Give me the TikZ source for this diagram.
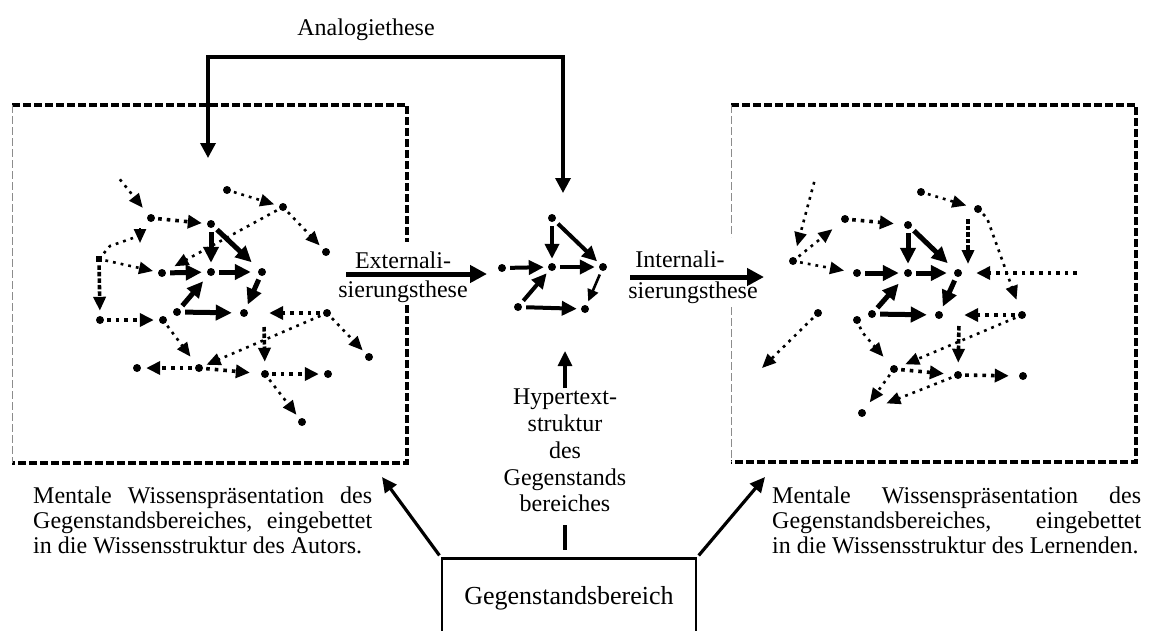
\documentclass[tikz,border=0pt]{standalone}
\usepackage{fontspec}
\setmainfont{Liberation Serif}
\usetikzlibrary{arrows.meta}
\begin{document}
\begin{tikzpicture}[x=1pt,y=-1pt,
  nd/.style={circle,fill=black,inner sep=0pt,minimum size=8pt},
  nsq/.style={rectangle,fill=black,inner sep=0pt,minimum size=6.5pt},
  thk/.style={line width=5pt,-{Triangle[length=16pt,width=15pt]},shorten <=4pt,shorten >=5pt},
  cthk/.style={line width=4pt,-{Triangle[length=15pt,width=14pt]},shorten <=4pt,shorten >=4pt},
  dt/.style={line width=3.6pt,dash pattern=on 3.6pt off 5pt,-{Triangle[length=14pt,width=13pt]},shorten <=3pt,shorten >=5pt},
  dd/.style={line width=2.6pt,dash pattern=on 2.8pt off 5pt,-{Triangle[length=14pt,width=12pt]},shorten <=3pt,shorten >=5pt},
  vd/.style={line width=3.6pt,dash pattern=on 4.5pt off 2pt,-{Triangle[length=14pt,width=12pt]},shorten <=3pt,shorten >=5pt},
  boxd/.style={line width=3.2pt,dash pattern=on 8pt off 3pt},
  boxg/.style={line width=1pt,black!45,dash pattern=on 8pt off 3pt},
  lbl/.style={font=\fontsize{24}{25}\selectfont,inner sep=0pt},
  mainarr/.style={line width=3.2pt,-{Triangle[length=15pt,width=14pt]}},
  bigarr/.style={line width=5pt,-{Triangle[length=17pt,width=17pt]}},
]
\useasboundingbox (0,0) rectangle (1158,630);

% ---------- dashed frames ----------
\draw[boxd] (12,105) -- (407,105) -- (407,242);
\draw[boxd] (407,305) -- (407,463) -- (12,463);
\draw[boxg] (12,105) -- (12,463);
\draw[boxd] (731,105) -- (1136,105) -- (1136,462) -- (731,462);
\draw[boxg] (731,105) -- (731,237);
\draw[boxg] (731,307) -- (731,462);

% ---------- Analogiethese ----------
\node[lbl,anchor=base] (ana) at (366,35) {Analogiethese};
\coordinate (anaL) at (208,158);
\coordinate (anaR) at (563,193);
\draw[line width=3.4pt,{Triangle[length=15pt,width=15pt]}-{Triangle[length=15pt,width=15pt]}] (anaL) |- (563,57) -- (anaR);

% ---------- left network ----------
\node[nd] (n2) at (151,218) {};
\node[nd] (n3) at (211,224) {};
\node[nd] (n4) at (227,190) {};
\node[nd] (n5) at (283,207) {};
\node[nd] (n6) at (326,252) {};
\node[nd] (n7) at (162,273) {};
\node[nd] (n8) at (211,272) {};
\node[nd] (n9) at (262,272) {};
\node[nd] (n10) at (244,313) {};
\node[nd] (n11) at (177,312) {};
\node[nsq] (n12) at (99,259) {};
\node[nd] (n13) at (100,320) {};
\node[nd] (n14) at (163,320) {};
\node[nd] (n15) at (199,368) {};
\node[nd] (n16) at (137,368) {};
\node[nd] (n17) at (265,374) {};
\node[nd] (n18) at (328,374) {};
\node[nd] (n19) at (302,422) {};
\node[nd] (n20) at (327,313) {};
\node[nd] (n21) at (369,357) {};
\coordinate (f1) at (118,177);
\coordinate (f2) at (264,324);
\coordinate (f3) at (110,246);
\coordinate (f4) at (133,238);
\coordinate (f5) at (140,228);
\coordinate (f6) at (140,243);

\draw[thk] (n3) -- (n8);
\draw[thk,shorten >=10pt] (n3) -- (n9);
\draw[thk] (n7) -- (n8);
\draw[thk,shorten >=7pt] (n8) -- (n9);
\draw[thk] (n9) -- (n10);
\draw[thk,shorten >=8pt] (n11) -- (n8);
\draw[thk,shorten >=8pt] (n11) -- (n10);

\draw[dd,shorten >=9pt] (f1) -- (n2);
\draw[dt] (n2) -- (n3);
\draw[dd] (n4) -- (n5);
\draw[dd] (n5) -- (n6);
\draw[dd,shorten >=10pt] (n5) -- (n7);
\draw[dd] (n12) -- (n7);
\draw[vd] (n12) -- (n13);
\draw[dt] (n13) -- (n14);
\draw[dd,shorten >=10pt] (n14) -- (n15);
\draw[dt] (n15) -- (n16);
\draw[dt,shorten >=11pt] (n15) -- (n17);
\draw[dt] (n17) -- (n18);
\draw[dd] (n17) -- (n19);
\draw[dt,shorten >=21pt] (n20) -- (n10);
\draw[vd,shorten >=8pt] (f2) -- (n17);
\draw[dd] (n20) -- (n21);
\draw[dd,shorten >=4pt] (n20) -- (n15);
\draw[dd,-,shorten >=0pt] (n12) -- (f3) -- (f4);
\draw[line width=2.4pt,-{Triangle[length=14pt,width=12pt]}] (f5) -- (f6);

% ---------- centre network ----------
\node[nd] (cA) at (552,218) {};
\node[nd] (cB) at (552,267) {};
\node[nd] (cL) at (502,268) {};
\node[nd] (cR) at (603,267) {};
\node[nd] (cBL) at (518,307) {};
\node[nd] (cBR) at (585,309) {};
\draw[cthk] (cA) -- (cB);
\draw[cthk] (cA) -- (cR);
\draw[cthk] (cL) -- (cB);
\draw[cthk] (cB) -- (cR);
\draw[cthk] (cBL) -- (cB);
\draw[cthk] (cBL) -- (cBR);
\draw[line width=2.6pt,-{Triangle[length=12pt,width=11pt]},shorten <=4pt,shorten >=4pt] (cR) -- (cBR);

% ---------- right network ----------
\node[nd] (m2) at (793,261) {};
\node[nd] (m3) at (857,273) {};
\node[nd] (m4) at (845,219) {};
\node[nd] (m5) at (908,225) {};
\node[nd] (m6) at (921,192) {};
\node[nd] (m7) at (978,209) {};
\node[nd] (m8) at (908,273) {};
\node[nd] (m9) at (958,273) {};
\node[nd] (m10) at (1022,315) {};
\node[nd] (m11) at (939,315) {};
\node[nd] (m12) at (872,314) {};
\node[nd] (m13) at (958,375) {};
\node[nd] (m14) at (1023,376) {};
\node[nd] (m15) at (894,369) {};
\node[nd] (m16) at (862,413) {};
\node[nd] (m17) at (857,320) {};
\node[nd] (m18) at (818,313) {};
\coordinate (g1) at (815,179);
\coordinate (g2) at (1080,273);
\coordinate (g3) at (959,323);
\coordinate (g4) at (762,368);
\coordinate (g5) at (968,216);
\coordinate (g6) at (968,264);
\coordinate (g7) at (987,218);
\coordinate (g8) at (862,332);

\draw[thk] (m5) -- (m8);
\draw[thk,shorten >=10pt] (m5) -- (m9);
\draw[thk] (m3) -- (m8);
\draw[thk,shorten >=7pt] (m8) -- (m9);
\draw[thk] (m9) -- (m11);
\draw[thk,shorten >=10pt] (m12) -- (m8);
\draw[thk,shorten >=8pt] (m12) -- (m11);

\draw[dd,shorten >=11pt] (g1) -- (m2);
\draw[dd,shorten >=9pt] (m2) -- (m3);
\draw[dd,shorten >=12pt] (m2) -- (m4);
\draw[dt,shorten >=10pt] (m4) -- (m5);
\draw[dd,shorten >=8pt] (m6) -- (m7);
\draw[vd,shorten >=0pt] (g5) -- (g6);
\draw[dd,shorten >=12pt] (m7) -- (g7) -- (m10);
\draw[dt,shorten >=14pt] (g2) -- (m9);
\draw[dt,shorten >=21pt] (m10) -- (m11);
\draw[vd,shorten >=8pt] (g3) -- (m13);
\draw[dt,shorten >=10pt] (m13) -- (m14);
\draw[dd,shorten >=8pt] (m10) -- (m15);
\draw[dt,shorten >=10pt] (m15) -- (m13);
\draw[dd,shorten >=9pt] (m15) -- (m16);
\draw[dd,shorten >=22pt] (m13) -- (m16);
\draw[dd,shorten >=12pt] (m17) -- (g8) -- (m15);
\draw[dd,shorten >=0pt] (m18) -- (g4);

% ---------- theses ----------
\node[lbl,anchor=base] (ext1) at (403,268) {Externali-};
\node[lbl,anchor=base] (ext2) at (403,297) {sierungsthese};
\coordinate (extA) at (346,274);
\coordinate (extB) at (487,274);
\draw[bigarr] (extA) -- (extB);
\node[lbl,anchor=base] (int1) at (680,267) {Internali-};
\node[lbl,anchor=base] (int2) at (693,298) {sierungsthese};
\coordinate (intA) at (630,277);
\coordinate (intB) at (764,277);
\draw[bigarr] (intA) -- (intB);

% ---------- bottom ----------
\node[draw,line width=2.8pt,anchor=north,minimum width=254pt,inner xsep=0pt,inner ysep=28pt,
      text height=18pt,text depth=60pt,font=\fontsize{26}{28}\selectfont] (gb) at (569,557) {Gegenstandsbereich};
\node[lbl,anchor=north,align=center,font=\fontsize{24}{26.7}\selectfont] (hyp) at (565,389)
  {Hypertext-\\struktur\\des\\Gegenstands\\bereiches};
\coordinate (hypTip) at (565,351);
\draw[mainarr,shorten <=1pt] (hyp.north) -- (hypTip);
\draw[line width=3.2pt,shorten <=13pt,shorten >=7pt] (hyp.south) -- (hyp.south |- gb.north);

\coordinate (tipL) at (382,477);
\coordinate (tipR) at (765,477);
\draw[mainarr,shorten <=2pt] (gb.north west) -- (tipL);
\draw[mainarr,shorten <=2pt] (gb.north east) -- (tipR);

\node[lbl,anchor=north west,align=left] (capL) at (33,487)
  {\makebox[339pt][s]{Mentale Wissenspräsentation des}\\
   \makebox[339pt][s]{Gegenstandsbereiches, eingebettet}\\
   in die Wissensstruktur des Autors.};
\node[lbl,anchor=north west,align=left] (capR) at (772,487)
  {\makebox[369pt][s]{Mentale Wissenspräsentation des}\\
   \makebox[369pt][s]{Gegenstandsbereiches, eingebettet}\\
   in die Wissensstruktur des Lernenden.};
\end{tikzpicture}
\end{document}
